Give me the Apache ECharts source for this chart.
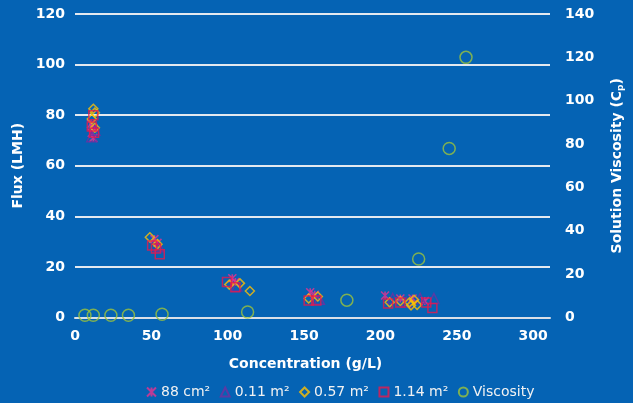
<!DOCTYPE html>
<html><head><meta charset="utf-8">
<script src="https://cdn.jsdelivr.net/npm/echarts@6/dist/echarts.min.js"></script>
<style>html,body{margin:0;padding:0;background:#0563B4;}#c{width:633px;height:403px;}</style>
</head><body><div id="c"></div>
<script>
// Flux series: [concentration g/L, flux LMH]
const s88 = [[12,71],[11,73],[12,75],[10.5,76.5],[52,31],[54,29.5],[103,15.5],[105,14],[154,10],[157,9],[203,8.7],[213,7.5],[221,7.5],[229,6.5]];
const s011 = [[11,71.5],[13,74],[55,28],[106,12.5],[160,7.2],[208,7.5],[226,7.5],[235,7.5],[217,6]];
const s057 = [[12,82.5],[13,81],[11,78.5],[13,75],[49,31.7],[54,29],[101,13],[108,13.5],[114.5,10.5],[153,7.5],[159,8.3],[206,6],[213,6.5],[219,6],[222,7],[220,4.8],[224,5]];
const s114 = [[12,80],[11,75.5],[12.5,73],[50.5,28.5],[53,27.3],[55.5,25],[99.5,14],[105,12],[153,6.7],[158,6.7],[205,5.5],[213,5.9],[230,5.9],[234,3.8]];
// Viscosity: [concentration g/L, viscosity cP]
const visc = [[6.5,1],[12,1],[23.5,1],[35,1],[57,1.5],[113,2.5],[178,8],[225,27],[245,78],[256,120]];
const seriesNames = ['88 cm²','0.11 m²','0.57 m²','1.14 m²','Viscosity'];
const xTicks = [0,50,100,150,200,250,300];

const FONT = 'DejaVu Sans';
const starPath = 'path://M0,0L10,10M10,0L0,10M5,0L5,10';
function hollow(c, w){ return {color:'rgba(0,0,0,0)', borderColor:c, borderWidth:w||1.5}; }

const chart = echarts.init(document.getElementById('c'));
chart.setOption({
  backgroundColor:'#0563B4',
  animation:false,
  grid:{left:75,right:83,top:14,bottom:85.5},
  legend:{
    left:141, top:380, itemWidth:9, itemHeight:9, itemGap:9.5,
    textStyle:{color:'#f2f2f2',fontFamily:FONT,fontSize:14},
    data:seriesNames
  },
  xAxis:{
    type:'value', min:0, max:311,
    name:'Concentration (g/L)', nameLocation:'middle', nameGap:40,
    nameTextStyle:{color:'#ffffff',fontFamily:FONT,fontSize:14,fontWeight:'bold',padding:[0,14,0,0]},
    axisLine:{show:true,lineStyle:{color:'#d9dfe8',width:2}},
    axisTick:{show:false},
    splitLine:{show:false},
    axisLabel:{color:'#ffffff',fontFamily:FONT,fontSize:14,fontWeight:'bold',margin:12,
      customValues:xTicks}
  },
  yAxis:[{
    type:'value', min:0, max:120, interval:20,
    name:'Flux (LMH)', nameLocation:'middle', nameGap:43,
    nameTextStyle:{color:'#ffffff',fontFamily:FONT,fontSize:14,fontWeight:'bold'},
    axisLine:{show:false}, axisTick:{show:false},
    splitLine:{show:true,lineStyle:{color:'#e4e9f0',width:2}},
    axisLabel:{color:'#ffffff',fontFamily:FONT,fontSize:14,fontWeight:'bold',margin:10}
  },{
    type:'value', min:0, max:140, interval:20, position:'right',
    name:'{a|Solution Viscosity (C}{s|p}{a|)}', nameLocation:'middle', nameGap:60, nameRotate:90,
    nameTextStyle:{color:'#ffffff',fontFamily:FONT,fontSize:14,fontWeight:'bold',
      rich:{a:{color:'#ffffff',fontFamily:FONT,fontSize:14,fontWeight:'bold'},
            s:{color:'#ffffff',fontFamily:FONT,fontSize:9,fontWeight:'bold',verticalAlign:'bottom',padding:[6,0,0,0]}}},
    axisLine:{show:false}, axisTick:{show:false}, splitLine:{show:false},
    axisLabel:{color:'#ffffff',fontFamily:FONT,fontSize:14,fontWeight:'bold',margin:15}
  }],
  series:[
    {name:seriesNames[0],type:'scatter',data:s88,symbol:starPath,symbolSize:8,itemStyle:hollow('#E8318E',1.6)},
    {name:seriesNames[1],type:'scatter',data:s011,symbol:'triangle',symbolSize:10,itemStyle:hollow('#7030A0',1.5)},
    {name:seriesNames[2],type:'scatter',data:s057,symbol:'diamond',symbolSize:9,itemStyle:hollow('#FFC000',1.5)},
    {name:seriesNames[3],type:'scatter',data:s114,symbol:'rect',symbolSize:9,itemStyle:hollow('#E8184C',1.5)},
    {name:seriesNames[4],type:'scatter',yAxisIndex:1,data:visc,symbol:'circle',symbolSize:12,itemStyle:hollow('#9CC33B',1.5)}
  ]
});
</script></body></html>
